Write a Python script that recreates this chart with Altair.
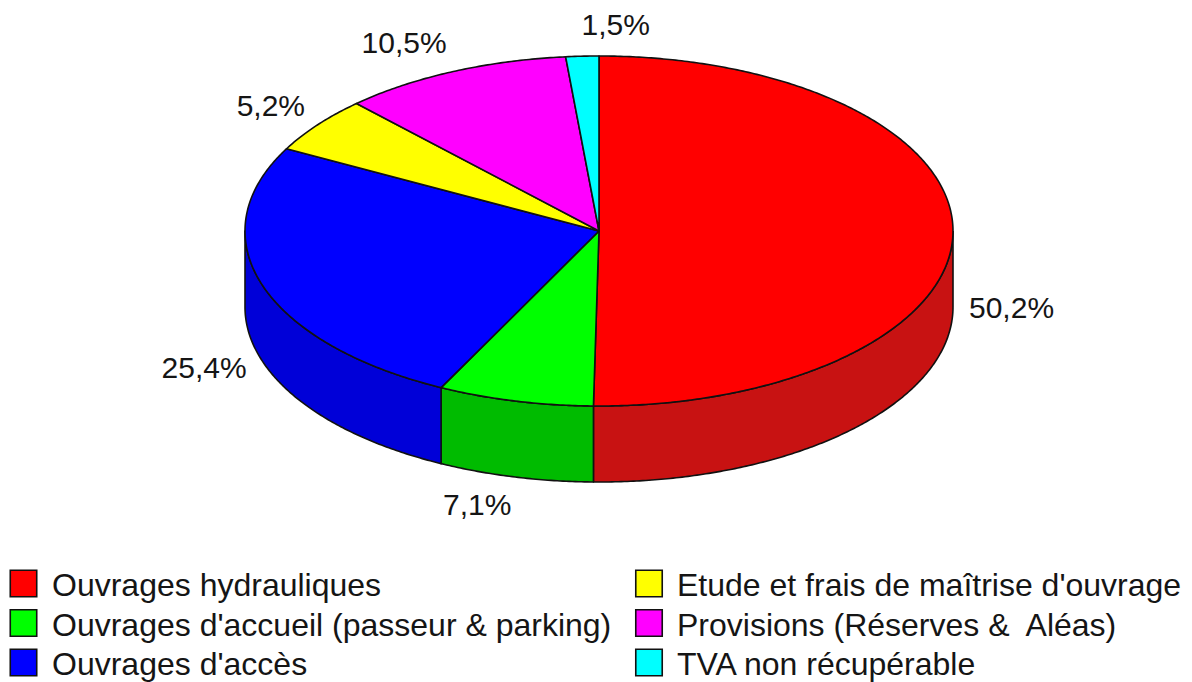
import math
import altair as alt
import pandas as pd

# ---------------- data ----------------
categories = [
    "Ouvrages hydrauliques",
    "Ouvrages d'accueil (passeur & parking)",
    "Ouvrages d'accès",
    "Etude et frais de maîtrise d'ouvrage",
    "Provisions (Réserves &\u00a0 Aléas)",
    "TVA non récupérable",
]
shares = [50.2, 7.1, 25.4, 5.2, 10.5, 1.5]
value_labels = ["50,2%", "7,1%", "25,4%", "5,2%", "10,5%", "1,5%"]
top_colors = ["#ff0000", "#00ff00", "#0000ff", "#ffff00", "#ff00ff", "#00ffff"]
side_colors = ["#c81212", "#00bb00", "#0000d8", "#cccc00", "#cc00cc", "#00cccc"]

# ---------------- geometry (derived from shares) ----------------
W, H = 1192, 682
CX, CY, RX, RY, DEPTH = 599, 231, 354, 175, 76
LRX, LRY = 370, 205
STEP = 0.5

total = sum(shares)
bounds = []
acc = 0.0
for s in shares:
    a0 = acc / total * 360.0
    acc += s
    a1 = acc / total * 360.0
    bounds.append((a0, a1))


def ell(theta, dy=0.0):
    t = math.radians(theta)
    return CX + RX * math.sin(t), CY - RY * math.cos(t) + dy


def arc(a0, a1, dy=0.0):
    n = max(2, int(math.ceil(abs(a1 - a0) / STEP)) + 1)
    return [ell(a0 + (a1 - a0) * k / (n - 1), dy) for k in range(n)]


top_rows, side_rows = [], []
for i, (a0, a1) in enumerate(bounds):
    pts = [(CX, CY)] + arc(a0, a1) + [(CX, CY)]
    for k, (x, y) in enumerate(pts):
        top_rows.append({"pid": f"t{i}", "k": k, "x": x, "y": y, "fill": top_colors[i]})
    s, e = max(a0, 90.0), min(a1, 270.0)
    if s < e:
        spts = arc(s, e) + arc(e, s, DEPTH)
        spts.append(spts[0])
        for k, (x, y) in enumerate(spts):
            side_rows.append({"pid": f"s{i}", "k": k, "x": x, "y": y, "fill": side_colors[i]})

lab_rows = []
for i, (a0, a1) in enumerate(bounds):
    m = math.radians((a0 + a1) / 2)
    sn, cs = math.sin(m), math.cos(m)
    x = CX + LRX * sn
    y = CY - LRY * cs + (DEPTH if cs < 0 else 0)
    lab_rows.append({"x": x, "y": y, "text": value_labels[i],
                     "side": "left" if sn > -0.1 else "right"})

leg_sq_x = [23.5, 649.0]
leg_tx_x = [52.0, 677.0]
leg_base = [596.0, 635.5, 675.0]
leg_rows = []
for i, c in enumerate(categories):
    col, row = i // 3, i % 3
    leg_rows.append({"cat": c, "fill": top_colors[i],
                     "sx": leg_sq_x[col], "sy": leg_base[row] - 12.5,
                     "tx": leg_tx_x[col], "ty": leg_base[row]})

top_df = pd.DataFrame(top_rows)
side_df = pd.DataFrame(side_rows)
lab_df = pd.DataFrame(lab_rows)
leg_df = pd.DataFrame(leg_rows)

xs = alt.Scale(domain=[0, W], nice=False, zero=False)
ys = alt.Scale(domain=[0, H], nice=False, zero=False, reverse=True)

FONT = "Liberation Sans"
TXT = "#151515"


def poly(df):
    return alt.Chart(df).mark_line(
        filled=True, stroke="#111111", strokeWidth=1.6, strokeJoin="round"
    ).encode(
        x=alt.X("x:Q", scale=xs, axis=None),
        y=alt.Y("y:Q", scale=ys, axis=None),
        color=alt.Color("fill:N", scale=None),
        detail="pid:N",
        order="k:Q",
    )


sides = poly(side_df)
tops = poly(top_df)

lab_left = alt.Chart(lab_df).transform_filter(alt.datum.side == "left").mark_text(
    align="left", baseline="middle", font=FONT, fontSize=30, color=TXT
).encode(x=alt.X("x:Q", scale=xs, axis=None), y=alt.Y("y:Q", scale=ys, axis=None), text="text:N")

lab_right = alt.Chart(lab_df).transform_filter(alt.datum.side == "right").mark_text(
    align="right", baseline="middle", font=FONT, fontSize=30, color=TXT
).encode(x=alt.X("x:Q", scale=xs, axis=None), y=alt.Y("y:Q", scale=ys, axis=None), text="text:N")

leg_sq = alt.Chart(leg_df).mark_square(
    size=700, filled=True, stroke="#111111", strokeWidth=1.6, opacity=1
).encode(
    x=alt.X("sx:Q", scale=xs, axis=None),
    y=alt.Y("sy:Q", scale=ys, axis=None),
    color=alt.Color("fill:N", scale=None),
)

leg_tx = alt.Chart(leg_df).mark_text(
    align="left", baseline="alphabetic", font=FONT, fontSize=32, color=TXT
).encode(
    x=alt.X("tx:Q", scale=xs, axis=None),
    y=alt.Y("ty:Q", scale=ys, axis=None),
    text="cat:N",
)

chart = alt.layer(sides, tops, lab_left, lab_right, leg_sq, leg_tx).properties(
    width=W, height=H, padding=0, autosize=alt.AutoSizeParams(type="none"), background="white"
).configure_view(stroke=None)

chart.save("out.html", embed_options={"renderer": "svg", "actions": False})
